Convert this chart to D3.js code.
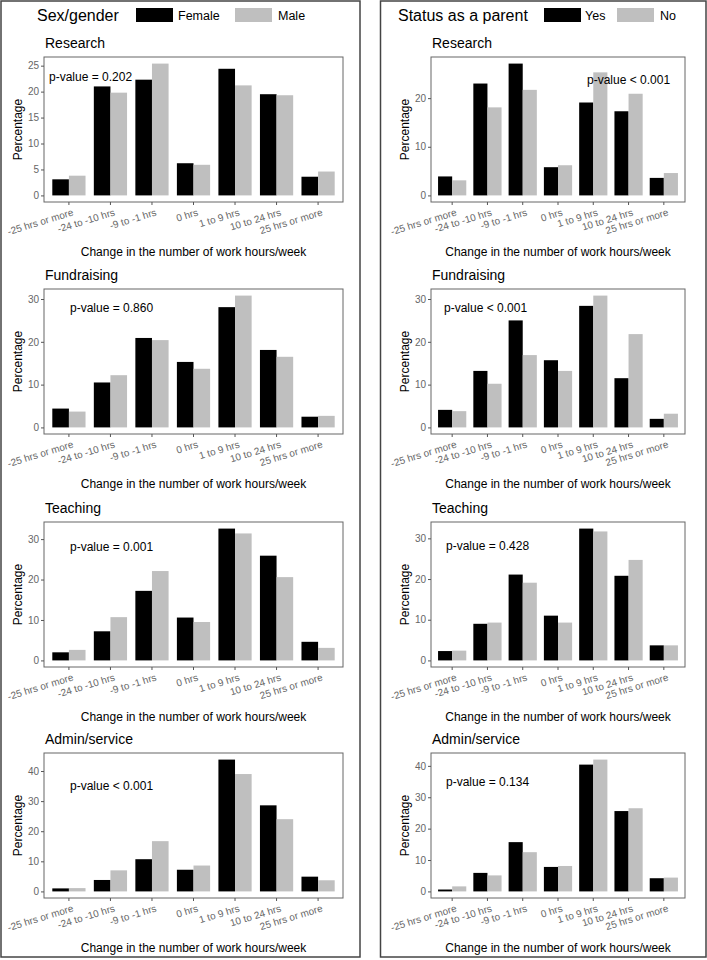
<!DOCTYPE html>
<html>
<head>
<meta charset="utf-8">
<script src="https://cdn.jsdelivr.net/npm/d3@7/dist/d3.min.js"></script>
<style>
  body { margin: 0; background: #fff; }
  text { font-family: "Liberation Sans", Arial, sans-serif; }
</style>
</head>
<body>
<script>

// x axis categories, shared by every panel
var categories = ["-25 hrs or more", "-24 to -10 hrs", "-9 to -1 hrs", "0 hrs",
                  "1 to 9 hrs", "10 to 24 hrs", "25 hrs or more"];

var activities = ["Research", "Fundraising", "Teaching", "Admin/service"];

// left column: sex/gender (percentages)
var researchFemale    = [3.1, 21.0, 22.3, 6.2, 24.4, 19.5, 3.6];
var researchMale      = [3.8, 19.8, 25.4, 5.9, 21.2, 19.3, 4.6];
var fundraisingFemale = [4.4, 10.5, 20.9, 15.3, 28.1, 18.1, 2.5];
var fundraisingMale   = [3.7, 12.2, 20.4, 13.7, 30.8, 16.5, 2.7];
var teachingFemale    = [2.0, 7.2, 17.2, 10.6, 32.6, 25.9, 4.6];
var teachingMale      = [2.6, 10.7, 22.1, 9.5, 31.4, 20.6, 3.1];
var adminFemale       = [1.0, 3.8, 10.7, 7.2, 43.8, 28.6, 4.9];
var adminMale         = [1.1, 7.0, 16.7, 8.6, 39.0, 24.0, 3.7];

// right column: status as a parent
var researchYes    = [3.9, 23.0, 27.1, 5.8, 19.1, 17.3, 3.6];
var researchNo     = [3.1, 18.1, 21.7, 6.2, 25.3, 20.9, 4.6];
var fundraisingYes = [4.1, 13.2, 25.0, 15.7, 28.4, 11.5, 2.0];
var fundraisingNo  = [3.8, 10.2, 16.9, 13.2, 30.8, 21.8, 3.2];
var teachingYes    = [2.3, 9.0, 21.1, 11.0, 32.4, 20.8, 3.7];
var teachingNo     = [2.4, 9.3, 19.1, 9.3, 31.7, 24.7, 3.7];
var adminYes       = [0.6, 5.9, 15.7, 7.8, 40.4, 25.6, 4.2];
var adminNo        = [1.6, 5.1, 12.5, 8.1, 42.0, 26.5, 4.4];

// p-value annotations
var pSex    = ["p-value = 0.202", "p-value = 0.860", "p-value = 0.001", "p-value < 0.001"];
var pParent = ["p-value < 0.001", "p-value < 0.001", "p-value = 0.428", "p-value = 0.134"];

// y tick labels per panel
var ticksSex    = [[0, 5, 10, 15, 20, 25], [0, 10, 20, 30], [0, 10, 20, 30], [0, 10, 20, 30, 40]];
var ticksParent = [[0, 10, 20], [0, 10, 20, 30], [0, 10, 20, 30], [0, 10, 20, 30, 40]];

// legends
var sexKeys = ["Female", "Male"];
var parentKeys = ["Yes", "No"];
var colours = ["#000000", "#bfbfbf"];

var width = 707, height = 960;

var svg = d3.select("body").append("svg")
    .attr("width", width)
    .attr("height", height);

// the two columns: box, legend and panel placement
var columns = [
    {
        box: [1, 1, 359, 956], panelX: [44, 343], title: "Sex/gender", titleX: 37,
        keys: sexKeys, keyRect: [136, 235], keyText: [178, 278],
        series: [[researchFemale, researchMale], [fundraisingFemale, fundraisingMale],
                 [teachingFemale, teachingMale], [adminFemale, adminMale]],
        pText: pSex, ticks: ticksSex,
        pPos: [[5, 20], [26, 19], [26, 25], [26, 33]]
    },
    {
        box: [380.5, 1, 325.5, 956], panelX: [431, 685], title: "Status as a parent", titleX: 398,
        keys: parentKeys, keyRect: [544, 617], keyText: [585, 660],
        series: [[researchYes, researchNo], [fundraisingYes, fundraisingNo],
                 [teachingYes, teachingNo], [adminYes, adminNo]],
        pText: pParent, ticks: ticksParent,
        pPos: [[156, 23], [13, 19], [15, 24], [15, 29]]
    }
];

var rowTops = [57, 289, 522, 753];
var panelH = 145;

columns.forEach(function (col) {

    // outer frame
    svg.append("rect")
        .attr("x", col.box[0]).attr("y", col.box[1])
        .attr("width", col.box[2]).attr("height", col.box[3])
        .attr("fill", "none")
        .attr("stroke", "#444")
        .attr("stroke-width", 1.5);

    // legend title + keys
    svg.append("text")
        .attr("x", col.titleX).attr("y", 21)
        .attr("font-size", 16)
        .text(col.title);

    col.keys.forEach(function (k, i) {
        svg.append("rect")
            .attr("x", col.keyRect[i]).attr("y", 8)
            .attr("width", 37).attr("height", 14)
            .attr("fill", colours[i]);
        svg.append("text")
            .attr("x", col.keyText[i]).attr("y", 19.5)
            .attr("font-size", 12.5)
            .text(k);
    });

    var x0 = col.panelX[0], x1 = col.panelX[1];

    // band scale matching ggplot's discrete expansion (0.6 units each side)
    var x = d3.scaleBand()
        .domain(categories)
        .range([x0, x1])
        .paddingInner(0.2)
        .paddingOuter(0.2);

    var xSub = d3.scaleBand()
        .domain([0, 1])
        .range([0, x.bandwidth()]);

    col.series.forEach(function (pair, r) {
        var top = rowTops[r], bottom = top + panelH;
        var maxV = d3.max(pair[0].concat(pair[1]));

        var y = d3.scaleLinear()
            .domain([-0.05 * maxV, 1.05 * maxV])
            .range([bottom, top]);

        var g = svg.append("g");

        // panel subtitle
        g.append("text")
            .attr("x", x0 + 1).attr("y", top - 9)
            .attr("font-size", 14)
            .text(activities[r]);

        // bars
        var rows = categories.map(function (c, i) {
            return { cat: c, vals: [pair[0][i], pair[1][i]] };
        });

        var groups = g.selectAll("g.cat")
            .data(rows)
            .enter().append("g")
            .attr("class", "cat")
            .attr("transform", function (d) { return "translate(" + x(d.cat) + ",0)"; });

        groups.selectAll("rect")
            .data(function (d) { return d.vals; })
            .enter().append("rect")
            .attr("x", function (d, i) { return xSub(i); })
            .attr("y", function (d) { return y(d); })
            .attr("width", xSub.bandwidth())
            .attr("height", function (d) { return y(0) - y(d); })
            .attr("fill", function (d, i) { return colours[i]; });

        // panel border
        g.append("rect")
            .attr("x", x0).attr("y", top)
            .attr("width", x1 - x0).attr("height", panelH)
            .attr("fill", "none")
            .attr("stroke", "#666")
            .attr("stroke-width", 1);

        // y axis
        var yAxis = g.append("g")
            .attr("transform", "translate(" + x0 + ",0)")
            .call(d3.axisLeft(y).tickValues(col.ticks[r]).tickSize(3).tickPadding(2));
        yAxis.select(".domain").remove();
        yAxis.selectAll("line").attr("stroke", "#555");
        yAxis.selectAll("text")
            .attr("fill", "#666")
            .attr("font-size", 10)
            .attr("font-family", "Liberation Sans, Arial, sans-serif");

        // x axis, labels tilted and right-aligned on the tick
        var xAxis = g.append("g")
            .attr("transform", "translate(0," + bottom + ")")
            .call(d3.axisBottom(x).tickSize(3));
        xAxis.select(".domain").remove();
        xAxis.selectAll("line").attr("stroke", "#555");
        xAxis.selectAll("text")
            .attr("fill", "#666")
            .attr("font-size", 10)
            .attr("font-family", "Liberation Sans, Arial, sans-serif")
            .attr("text-anchor", "end")
            .attr("y", 0)
            .attr("dy", "0.75em")
            .attr("transform", "translate(3,6) rotate(-17)");

        // axis titles
        g.append("text")
            .attr("transform", "translate(" + (x0 - 22) + "," + (top + panelH / 2) + ") rotate(-90)")
            .attr("text-anchor", "middle")
            .attr("font-size", 12)
            .text("Percentage");

        g.append("text")
            .attr("x", (x0 + x1) / 2).attr("y", bottom + 54)
            .attr("text-anchor", "middle")
            .attr("font-size", 12)
            .text("Change in the number of work hours/week");

        // p-value
        g.append("text")
            .attr("x", x0 + col.pPos[r][0])
            .attr("y", top + col.pPos[r][1])
            .attr("dy", "0.35em")
            .attr("font-size", 12)
            .text(col.pText[r]);
    });
});

</script>
</body>
</html>
